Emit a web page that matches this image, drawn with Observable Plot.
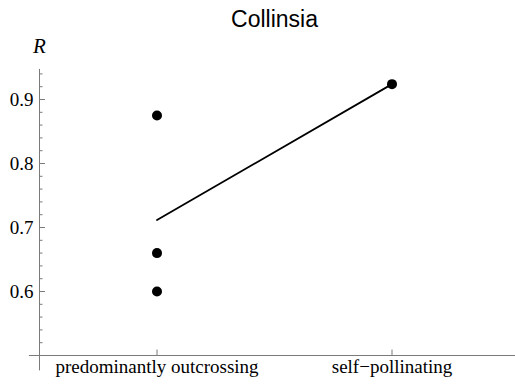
<!DOCTYPE html>
<html>
<head>
<meta charset="utf-8">
<script src="https://cdn.jsdelivr.net/npm/d3@7"></script>
<script src="https://cdn.jsdelivr.net/npm/@observablehq/plot@0.6"></script>
<style>
  html, body { margin: 0; padding: 0; background: #fff; }
</style>
</head>
<body>
<div id="chart"></div>
<script>
const title = "Collinsia";
const yLabel = "R";
const categories = ["predominantly outcrossing", "self\u2212pollinating"];
const outcrossingR = [0.875, 0.66, 0.60];
const selfPollinatingR = [0.924];
const yTickValues = [0.6, 0.7, 0.8, 0.9];
const yTickLabels = ["0.6", "0.7", "0.8", "0.9"];

// build tables from the arrays
const points = [
  ...outcrossingR.map(r => ({cat: 0, r})),
  ...selfPollinatingR.map(r => ({cat: 1, r}))
];
const means = [
  {cat: 0, r: d3.mean(outcrossingR)},
  {cat: 1, r: d3.mean(selfPollinatingR)}
];
const majorTicks = yTickValues.map((v, i) => ({v, label: yTickLabels[i]}));
const minorTicks = d3.range(0.5, 0.95, 0.02).filter(v => !yTickValues.some(m => Math.abs(m - v) < 1e-6));

const axisX0 = -0.5;     // where the vertical axis sits (category units)
const axisY0 = 0.5;      // where the horizontal axis sits (R units)
const axisColor = "#7a7a7a";
const serif = "'Liberation Serif', 'Times New Roman', serif";

const chart = Plot.plot({
  width: 515,
  height: 385,
  marginTop: 0, marginRight: 0, marginBottom: 0, marginLeft: 0,
  style: {background: "#fff", overflow: "visible"},
  x: {domain: [-0.5, 1.5], range: [39, 509], axis: null},
  y: {domain: [0.5, 0.95], range: [355, 67], axis: null},
  marks: [
    // vertical axis line
    Plot.ruleX([axisX0], {y1: 0.476, y2: 0.947, stroke: axisColor, strokeWidth: 1}),
    // horizontal axis line
    Plot.ruleY([axisY0], {x1: -0.543, x2: 1.53, stroke: axisColor, strokeWidth: 1}),
    // major y ticks
    Plot.ruleY(majorTicks, {y: "v", x1: axisX0, x2: axisX0 + 6 / 235, stroke: axisColor, strokeWidth: 1}),
    // minor y ticks
    Plot.ruleY(minorTicks, {y: d => d, x1: axisX0, x2: axisX0 + 3.5 / 235, stroke: axisColor, strokeWidth: 1}),
    // x ticks
    Plot.ruleX([0, 1], {x: d => d, y1: axisY0, y2: axisY0 + 5.5 / 640, stroke: axisColor, strokeWidth: 1}),
    // y tick labels
    Plot.text(majorTicks, {x: axisX0, y: "v", text: "label", dx: -6, textAnchor: "end", lineAnchor: "middle",
      fontFamily: serif, fontSize: 19, fill: "#000"}),
    // category labels
    Plot.text(categories, {x: (d, i) => i, y: axisY0, text: d => d, dy: 3.5, lineAnchor: "top",
      fontFamily: serif, fontSize: 19, fill: "#000"}),
    // y label
    Plot.text([yLabel], {x: axisX0, frameAnchor: "top", text: d => d, dy: 46, lineAnchor: "middle",
      fontFamily: serif, fontStyle: "italic", fontSize: 21, fill: "#000"}),
    // title
    Plot.text([title], {x: 0.5, frameAnchor: "top", text: d => d, dy: 19, lineAnchor: "middle",
      fontFamily: "'Liberation Sans', Arial, sans-serif", fontSize: 23, fill: "#000"}),
    // mean line
    Plot.line(means, {x: "cat", y: "r", stroke: "#000", strokeWidth: 1.8}),
    // data points
    Plot.dot(points, {x: "cat", y: "r", r: 5, fill: "#000", stroke: "none"})
  ]
});
document.getElementById("chart").appendChild(chart);
</script>
</body>
</html>
